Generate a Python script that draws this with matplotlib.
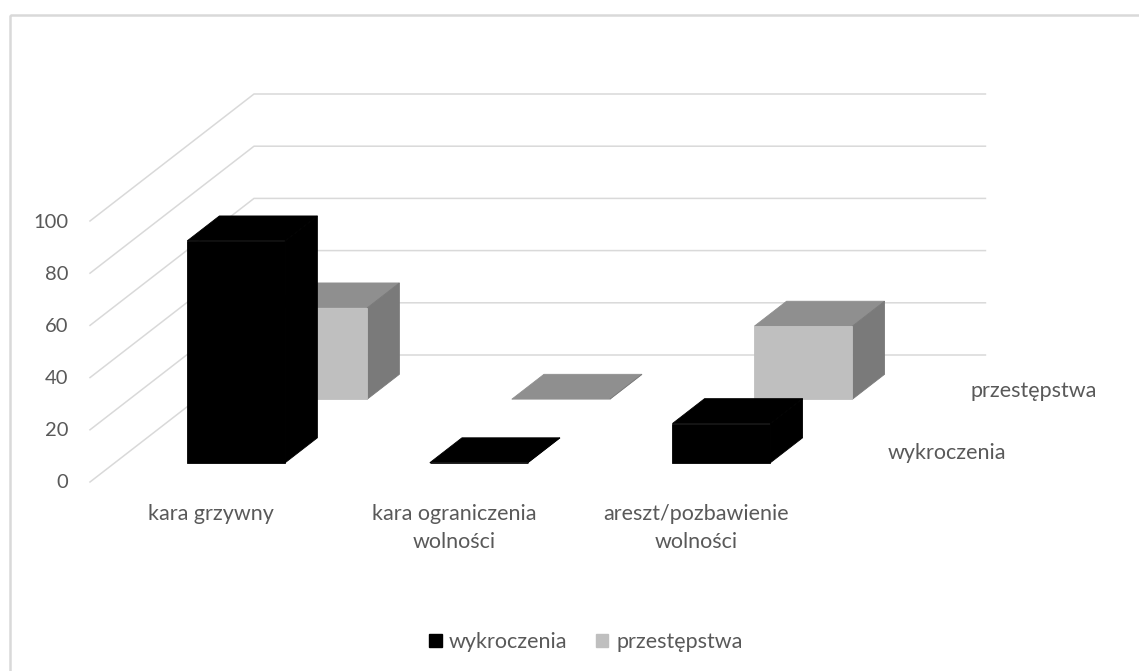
import matplotlib
matplotlib.use("Agg")
import matplotlib.pyplot as plt
from matplotlib.patches import Patch, Polygon, Rectangle

plt.rcParams['font.family'] = ['Lato', 'DejaVu Sans']

categories = ['kara grzywny', 'kara ograniczenia\nwolności', 'areszt/pozbawienie\nwolności']
series_names = ['wykroczenia', 'przestępstwa']
wykroczenia = [85, 0, 15]
przestepstwa = [35, 0, 28]
value_ticks = [0, 20, 40, 60, 80, 100]

# oblique projection of the 3D box, in pixels
X0, Y0 = 90, 482
CAT_W = 242.6
WALL_END = 3.015
DEPTH_X, DEPTH_Y = 164, -127
PX_PER_UNIT = 2.61
BAR_W = 0.404
BAR_D = 0.196

GRID = '#D9D9D9'
TEXT = '#595959'
FONT = 15.5


def project(c, d, v):
    return X0 + c * CAT_W + d * DEPTH_X, Y0 - v * PX_PER_UNIT + d * DEPTH_Y


def draw_bar(ax, cat, depth, value, front, top, side):
    x1 = cat + 0.5 - BAR_W / 2
    x2 = cat + 0.5 + BAR_W / 2
    d1 = depth - BAR_D / 2
    d2 = depth + BAR_D / 2
    faces = [
        ([(x1, d1, value), (x2, d1, value), (x2, d2, value), (x1, d2, value)], top),
        ([(x2, d1, 0), (x2, d2, 0), (x2, d2, value), (x2, d1, value)], side),
        ([(x1, d1, 0), (x2, d1, 0), (x2, d1, value), (x1, d1, value)], front),
    ]
    for corners, color in faces:
        pts = [project(*p) for p in corners]
        ax.add_patch(Polygon(pts, closed=True, facecolor=color, edgecolor=color, lw=0.6, zorder=3))


fig = plt.figure(figsize=(11.39, 6.71), dpi=100)
ax = fig.add_axes([0, 0, 1, 1])
ax.set_xlim(0, 1139)
ax.set_ylim(671, 0)
ax.axis('off')

# chart frame, runs off the right and bottom edges
ax.add_patch(Rectangle((9.5, 14.5), 1200, 700, fill=False, edgecolor=GRID, lw=1.8))

# side wall and back wall gridlines
for v in value_ticks:
    xa, ya = project(0, 0, v)
    xb, yb = project(0, 1, v)
    xc, yc = project(WALL_END, 1, v)
    ax.plot([xa, xb, xc], [ya, yb, yc], color=GRID, lw=1.1, zorder=2)
    ax.text(xa - 22, ya + 1, str(v), ha='right', va='center', fontsize=FONT - 1, color=TEXT)

# back row first so the front row covers it
for i in range(len(categories)):
    draw_bar(ax, i, 0.75, przestepstwa[i], '#BFBFBF', '#8F8F8F', '#7A7A7A')
for i in range(len(categories)):
    draw_bar(ax, i, 0.25, wykroczenia[i], '#000000', '#000000', '#000000')

for i, label in enumerate(categories):
    x, _ = project(i + 0.5, 0, 0)
    ax.text(x, 503.5, label, ha='center', va='top', fontsize=FONT, color=TEXT, linespacing=1.55)

# depth axis labels
ax.text(888, 453, series_names[0], ha='left', va='center', fontsize=FONT, color=TEXT)
ax.text(970, 391, series_names[1], ha='left', va='center', fontsize=FONT, color=TEXT)

handles = [Patch(color='#000000'), Patch(color='#BFBFBF')]
ax.legend(handles, series_names, loc='center', bbox_to_anchor=(585.5, 642), bbox_transform=ax.transData,
          ncol=2, frameon=False, fontsize=FONT, labelcolor=TEXT, handlelength=0.6, handleheight=0.6,
          handletextpad=0.35, columnspacing=1.3)

fig.savefig('out.png', dpi=100)
